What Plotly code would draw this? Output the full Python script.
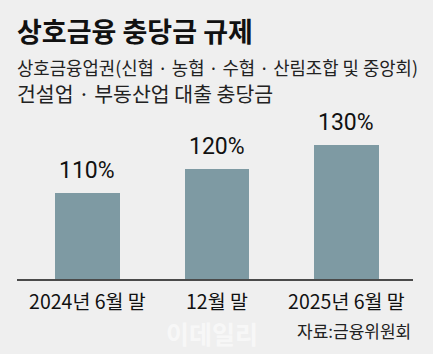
import plotly.graph_objects as go

categories = ["2024년 6월 말", "12월 말", "2025년 6월 말"]
values = [110, 120, 130]
value_labels = ["110%", "120%", "130%"]

title = "상호금융 충당금 규제"
subtitle1 = "상호금융업권(신협 · 농협 · 수협 · 산림조합 및 중앙회)"
subtitle2 = "건설업 · 부동산업 대출 충당금"
source = "자료:금융위원회"
watermark = "이데일리"

W, H = 433, 354
ML, MR, MT, MB = 17, 20, 110, 75
PW, PH = W - ML - MR, H - MT - MB

def px(x):
    return (x - ML) / PW

def py(y):
    return (H - MB - y) / PH

KR = "Noto Sans CJK KR"
NUM = "Liberation Sans Narrow, Roboto, Noto Sans CJK KR"

fig = go.Figure()
fig.add_trace(go.Bar(
    x=list(range(len(categories))), y=values, base=0,
    marker=dict(color="#7e9aa3", line=dict(width=0)),
    width=0.5, hoverinfo="skip",
))

ann = []
for i, (v, t) in enumerate(zip(values, value_labels)):
    ann.append(dict(x=i, y=v, xref="x", yref="y", text=t, showarrow=False,
                    yanchor="bottom", yshift=7,
                    font=dict(family=NUM, size=23, color="#111111")))

ann += [
    dict(x=px(212), y=py(333), xref="paper", yref="paper", text="<b>" + watermark + "</b>",
         showarrow=False, xanchor="center", yanchor="middle", borderpad=0,
         font=dict(family=KR, size=25, color="rgba(255,255,255,0.55)")),
    dict(x=px(15), y=py(30), xref="paper", yref="paper", text="<b>" + title + "</b>",
         showarrow=False, xanchor="left", yanchor="middle",
         font=dict(family=KR, size=27, color="#111111")),
    dict(x=px(15), y=py(67), xref="paper", yref="paper", text=subtitle1,
         showarrow=False, xanchor="left", yanchor="middle",
         font=dict(family=KR, size=17.8, color="#222222")),
    dict(x=px(15), y=py(93), xref="paper", yref="paper", text=subtitle2,
         showarrow=False, xanchor="left", yanchor="middle",
         font=dict(family=KR, size=20.5, color="#222222")),
    dict(x=px(413), y=py(330), xref="paper", yref="paper", text=source,
         showarrow=False, xanchor="right", yanchor="middle",
         font=dict(family=KR, size=17, color="#222222")),
]

fig.update_layout(
    width=W, height=H,
    margin=dict(l=ML, r=MR, t=MT, b=MB, pad=0),
    paper_bgcolor="#efefef", plot_bgcolor="#efefef",
    showlegend=False, bargap=0,
    annotations=ann,
    xaxis=dict(
        range=[-0.544, 2.514], tickmode="array",
        tickvals=list(range(len(categories))), ticktext=categories,
        showgrid=False, zeroline=False, showline=True, linecolor="#4a4a4a", linewidth=1.5,
        ticks="", ticklabelstandoff=5,
        tickfont=dict(family=KR, size=19.5, color="#111111"),
        fixedrange=True,
    ),
    yaxis=dict(range=[74.2, 144.6], visible=False, fixedrange=True),
)

fig.write_html("out.html")
